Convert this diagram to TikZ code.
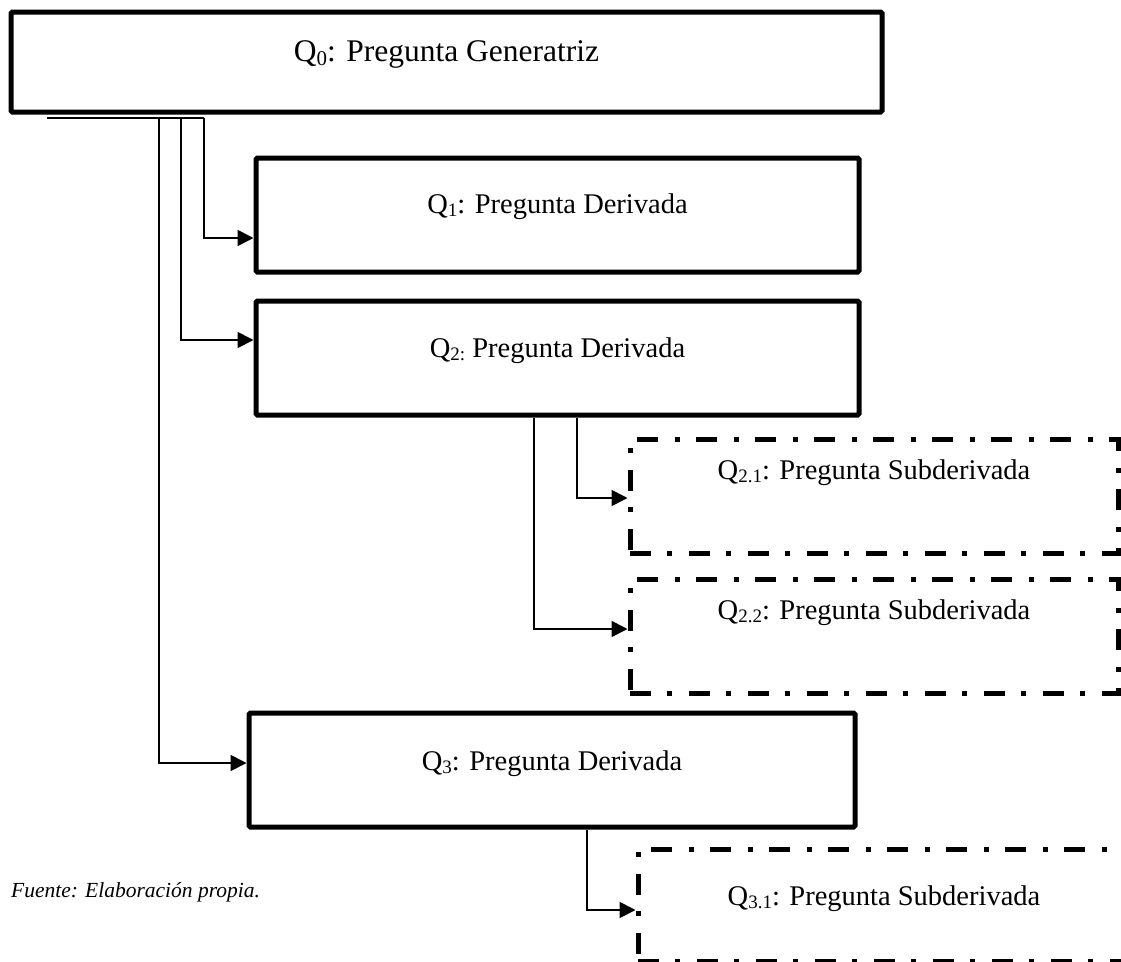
\documentclass[tikz,border=0pt]{standalone}
\usepackage{fontspec}
\setmainfont{Liberation Serif}
\usetikzlibrary{arrows.meta,calc}

% lowered small index after the letter Q
\newcommand\qsub[2][19]{\raisebox{-0.28ex}{\fontsize{#1}{#1}\selectfont #2}}

\tikzset{
  mainbox/.style={draw, line width=5pt, inner sep=0pt, rounded corners=1.5pt,
    font=\fontsize{28.5}{30}\selectfont},
  subbox/.style={draw, line width=5pt, inner sep=0pt,
    dash pattern=on 21pt off 16pt on 5pt off 17pt,
    font=\fontsize{28.5}{30}\selectfont},
  link/.style={line width=1.8pt},
  linkarrow/.style={line width=1.8pt, -{Triangle[length=16pt,width=16pt]}},
}

\begin{document}
\begin{tikzpicture}[x=1pt,y=-1pt]
\useasboundingbox (0,0) rectangle (1121,961);
\clip (0,0) rectangle (1121,961);

% question boxes
\node[mainbox, font=\fontsize{31.5}{33}\selectfont, minimum width=871pt,
      text height=49pt, text depth=51pt] (q0) at (446.5,62)
      {Q\qsub[21]{0}: Pregunta Generatriz};
\node[mainbox, minimum width=603pt, text height=55pt, text depth=59pt]
      (q1) at (557.5,215) {Q\qsub{1}: Pregunta Derivada};
\node[mainbox, minimum width=603pt, text height=56pt, text depth=58pt]
      (q2) at (557.5,358) {Q\qsub{2:} Pregunta Derivada};
\node[mainbox, minimum width=606pt, text height=57pt, text depth=57pt]
      (q3) at (552,770) {Q\qsub{3}: Pregunta Derivada};

% sub-question boxes
\node[subbox, minimum width=488pt, text height=40pt, text depth=74pt]
      (q21) at (874,496) {Q\qsub{2.1}: Pregunta Subderivada};
\node[subbox, minimum width=488pt, text height=40pt, text depth=74pt]
      (q22) at (874,636) {Q\qsub{2.2}: Pregunta Subderivada};
\node[subbox, minimum width=492pt, text height=56pt, text depth=56pt]
      (q31) at (884,905) {Q\qsub{3.1}: Pregunta Subderivada};

% source note
\node[anchor=base west, inner sep=0pt, font=\fontsize{21.5}{23}\selectfont\itshape]
      (src) at (11,897) {Fuente: Elaboración propia.};

% bus under the generating question
\draw[link] (47,118) coordinate (busL) -- (204,118) coordinate (busR);
\path (204,238) coordinate (k1) (181,340) coordinate (k2) (159,763) coordinate (k3);
\draw[linkarrow] (busL -| k1) |- (q1.west |- k1);
\draw[linkarrow] (busL -| k2) |- (q2.west |- k2);
\draw[linkarrow] (busL -| k3) |- (q3.west |- k3);

% branches to the sub-questions
\path (577,498) coordinate (k21) (534,629) coordinate (k22) (587,910) coordinate (k31);
\draw[linkarrow] (q2.south -| k21) |- (q21.west |- k21);
\draw[linkarrow] (q2.south -| k22) |- (q22.west |- k22);
\draw[linkarrow] (q3.south -| k31) |- (q31.west |- k31);
\end{tikzpicture}
\end{document}
